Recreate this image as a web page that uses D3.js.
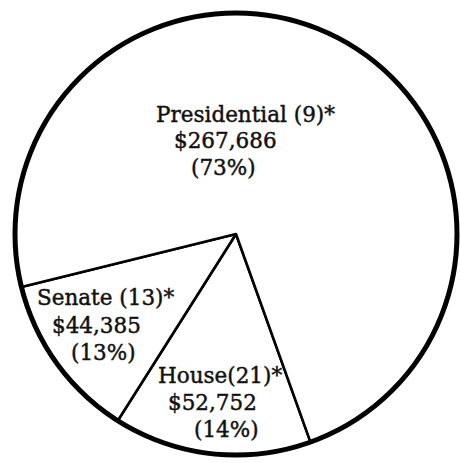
<!DOCTYPE html>
<html>
<head>
<meta charset="utf-8">
<script src="https://cdn.jsdelivr.net/npm/d3@7"></script>
<style>
  html, body { margin: 0; padding: 0; background: #fff; }
  svg { display: block; }
</style>
</head>
<body>
<svg id="chart" width="460" height="463"></svg>
<script>
// ---- data ----
const categories = ["House", "Senate", "Presidential"];
const titles = ["House(21)*", "Senate (13)*", "Presidential (9)*"];
const amounts = [52752, 44385, 267686];
const percents = [14, 13, 73];

// ---- layout ----
const W = 460, H = 463;
const cx = 236, cy = 234, R = 221;
const startDeg = 160.3;
// label line positions relative to pie center (x = left of each line, y = baseline)
const labelLayout = {
  "House":        [[-78, 149], [-68, 176], [-42, 203]],
  "Senate":       [[-199, 71], [-184, 99], [-165, 126]],
  "Presidential": [[-80, -112], [-62, -86], [-45, -59]]
};

const svg = d3.select("#chart");
svg.append("rect").attr("width", W).attr("height", H).attr("fill", "#fff");

const g = svg.append("g").attr("transform", `translate(${cx},${cy})`);

const data = categories.map((c, i) => ({ cat: c, title: titles[i], amount: amounts[i], pct: percents[i] }));

const start = startDeg * Math.PI / 180;
const pie = d3.pie().sort(null).value(d => d.amount).startAngle(start).endAngle(start + 2 * Math.PI);
const arc = d3.arc().innerRadius(0).outerRadius(R);

g.selectAll("path.slice")
  .data(pie(data))
  .join("path")
  .attr("class", "slice")
  .attr("d", arc)
  .attr("fill", "#fff")
  .attr("stroke", "#000")
  .attr("stroke-width", 2.6)
  .attr("stroke-linejoin", "round");

g.append("circle")
  .attr("r", R)
  .attr("fill", "none")
  .attr("stroke", "#000")
  .attr("stroke-width", 5);

const fmt = d3.format(",");
data.forEach(d => {
  const lines = [d.title, "$" + fmt(d.amount), "(" + d.pct + "%)"];
  const pos = labelLayout[d.cat];
  const t = g.append("text")
    .attr("font-family", "'DejaVu Serif', 'Liberation Serif', serif")
    .attr("font-size", 21.5)
    .attr("fill", "#111")
    .attr("stroke", "#111")
    .attr("stroke-width", 0.45);
  lines.forEach((ln, i) => {
    t.append("tspan").attr("x", pos[i][0]).attr("y", pos[i][1]).text(ln);
  });
});
</script>
</body>
</html>
